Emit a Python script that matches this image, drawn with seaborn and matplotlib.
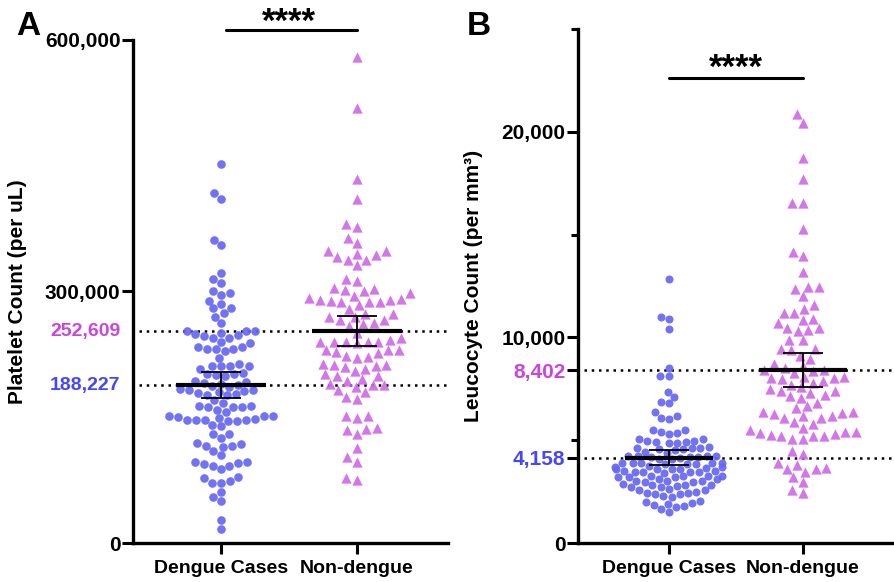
import matplotlib
matplotlib.use('Agg')
import numpy as np
import pandas as pd
import matplotlib.pyplot as plt
import matplotlib.transforms as mtransforms
import seaborn as sns

sns.set_style('ticks')
plt.rcParams['font.family'] = ['Liberation Sans', 'DejaVu Sans']
plt.rcParams['font.weight'] = 'bold'
for key in ['text.color', 'axes.labelcolor', 'xtick.color', 'ytick.color', 'axes.edgecolor']:
    plt.rcParams[key] = 'black'

GROUPS = ['Dengue Cases', 'Non-dengue']
COLORS = ['#6666f5', '#cf6ae9']
LABEL_COLORS = ['#4646ff', '#cc44e0']

# platelet count (per uL)
dengue_platelet = [452000, 417000, 410000, 362000, 355000, 322000, 315000, 310000, 300000,
                   298000, 296000, 289000, 285000, 280000, 280000, 274000, 270000, 262000,
                   253000, 253000, 251000, 253000, 247000, 248000, 245000, 244000, 249000,
                   240000, 238000, 231000, 231000, 234000, 234000, 229000, 231000, 221000,
                   211000, 208000, 211000, 213000, 211000, 211000, 203000, 201000, 199000,
                   202000, 200000, 193000, 192000, 190000, 187000, 189000, 191000, 186000,
                   182000, 181000, 179000, 177000, 176000, 183000, 180000, 184000, 178000,
                   171000, 167000, 162000, 162000, 162000, 163000, 159000, 156000, 163000,
                   152000, 146000, 150000, 147000, 148000, 152000, 147000, 145000, 147000,
                   152000, 147000, 149000, 139000, 141000, 130000, 130000, 125000, 116000,
                   116000, 115000, 119000, 118000, 110000, 105000, 95000, 97000, 97000,
                   94000, 92000, 88000, 92000, 74000, 79000, 72000, 72000, 77000, 61000,
                   55000, 50000, 28000, 17000]
nondengue_platelet = [580000, 519000, 434000, 410000, 380000, 377000, 364000, 358000,
                      345000, 343000, 348000, 348000, 338000, 338000, 341000, 332000,
                      315000, 312000, 304000, 300000, 302000, 298000, 303000,
                      288000, 292000, 295000, 291000, 288000, 288000, 290000, 289000, 290000,
                      284000, 279000, 273000, 266000, 273000, 266000, 269000, 269000, 261000,
                      262000, 259000, 251000, 244000, 240000, 240000, 240000, 238000, 242000,
                      240000, 240000, 230000, 230000, 222000, 223000, 221000, 227000, 230000,
                      228000, 212000, 212000, 213000, 211000, 208000, 210000, 199000, 205000,
                      196000, 201000, 193000, 199000, 190000, 188000, 189000, 182000, 186000,
                      180000, 172000, 174000, 149000, 151000, 151000, 130000, 137000, 135000,
                      136000, 113000, 97000, 102000, 75000, 78000]

# leucocyte count (per mm3)
dengue_leuco = [12820, 10900, 10970, 10430, 8530, 8130, 8130, 7340, 7090, 6840, 6790, 6390,
                6050, 6090, 6190,
                5350, 5400, 5520, 5480, 5300, 5070, 4930, 4950, 5080, 4980, 4850, 4880, 4920,
                4660, 4450, 4560, 4500, 4600, 4560, 4620, 4600, 4400, 4250, 4160, 4110, 4230,
                4080, 4150, 4200, 4230, 4200, 4230, 3900, 3830, 3900, 3750, 3830, 3870, 3830,
                3900, 3900, 3700, 3650, 3700, 3430, 3520, 3400, 3470, 3600, 3620, 3520, 3430,
                3580, 3620, 3430, 3240, 2950, 3030, 3030, 3190, 3110, 3270, 3190, 3270, 3190,
                2840, 2950, 2750, 2830, 2700, 2860, 2590, 2800, 2360, 2300, 2360, 2250, 2410,
                1940, 1900, 1820, 2010, 1850, 2060, 1650, 1740, 1500, 2600, 2700, 3250, 3100,
                2500, 2650, 2450, 3000]
nondengue_leuco = [20860, 20450, 18740, 17700, 16550, 16550, 15260, 13950, 14130, 13180,
                   12460, 12460, 12370, 12030, 11577, 11172, 11400, 11205, 10913, 10848,
                   10686, 10362, 10476, 10476, 10314, 9876, 9876, 9390, 9423, 9423, 9099,
                   8694, 8969, 8613, 8370, 8402, 8094, 8289, 8532, 8402, 7965, 7884, 8046,
                   8046, 8094, 7673, 7479, 7608, 7803, 7398, 7317, 7155, 7398, 7187, 7074,
                   6831, 6669, 6588, 6264, 6377, 6377, 6102, 6102, 6183, 6183, 6345, 5778,
                   5891, 5502, 5373, 5405, 5211, 5292, 5405, 5211, 5211, 5081, 5616, 5243,
                   5081, 4482, 4320, 3785, 3915, 3672, 3591, 3591, 3461, 3186, 2975, 2424,
                   2586]

# group means and 95% CI half-widths shown on the chart
mean_platelet = [188227, 252609]
ci_platelet = [15800, 18000]
mean_leuco = [4158, 8402]
ci_leuco = [380, 820]


def draw_panel(ax, values, means, cis, sizes):
    for i, (grp, vals) in enumerate(zip(GROUPS, values)):
        df = pd.DataFrame({'group': grp, 'value': vals})
        sns.swarmplot(data=df, x='group', y='value', order=GROUPS, ax=ax,
                      color=COLORS[i], marker='o' if i == 0 else '^', size=sizes[i],
                      alpha=0.92, linewidth=0, zorder=2)
    for i, (m, ci) in enumerate(zip(means, cis)):
        ax.hlines(m, i - 0.33, i + 0.33, color='black', lw=3, zorder=6)
        ax.vlines(i, m - ci, m + ci, color='black', lw=1.3, zorder=6)
        ax.hlines([m - ci, m + ci], i - 0.15, i + 0.15, color='black', lw=1.3, zorder=6)
        ax.axhline(m, xmin=0.02, xmax=1, color='black', lw=1.8,
                   linestyle=(0, (1, 1.9)), zorder=1)
    ax.set_xlabel('')
    sns.despine(ax=ax)
    for sp in ['left', 'bottom']:
        ax.spines[sp].set_linewidth(2.4)
    ax.tick_params(axis='y', width=2.2, length=8, pad=1, labelsize=15)
    ax.tick_params(axis='x', width=2.2, length=8, pad=4, labelsize=14)
    for lab in ax.get_xticklabels() + ax.get_yticklabels():
        lab.set_fontweight('bold')


fig = plt.figure(figsize=(8.95, 5.82), dpi=100)

# panel A
axA = fig.add_axes([0.1486, 0.067, 0.352, 0.8643])
draw_panel(axA, [dengue_platelet, nondengue_platelet], mean_platelet, ci_platelet, [6.2, 7.4])
axA.set_xlim(-0.647, 1.67)
axA.set_ylim(0, 600000)
axA.set_yticks([0, 300000, 600000])
axA.set_yticklabels(['0', '300,000', '600,000'], fontweight='bold')
axA.set_ylabel('Platelet Count (per uL)', fontsize=15, fontweight='bold')
axA.yaxis.set_label_coords(-0.335, 0.5)
trans = mtransforms.blended_transform_factory(axA.transAxes, axA.transData)
for m, c in zip(mean_platelet, LABEL_COLORS):
    axA.text(-0.04, m, f'{m:,}', transform=trans, ha='right', va='center',
             fontsize=14, fontweight='bold', color=c)
axA.plot([0.04, 1.0], [612000, 612000], color='black', lw=2.2, clip_on=False)
axA.text(0.5, 621000, '****', ha='center', va='center', fontsize=25, fontweight='bold')

# panel B
axB = fig.add_axes([0.6458, 0.067, 0.3542, 0.8832])
draw_panel(axB, [dengue_leuco, nondengue_leuco], mean_leuco, ci_leuco, [5.8, 7.4])
axB.set_xlim(-0.68, 1.69)
axB.set_ylim(0, 25000)
axB.set_yticks([0, 4158, 8402, 10000, 20000])
axB.set_yticklabels(['0', '4,158', '8,402', '10,000', '20,000'], fontweight='bold')
axB.set_yticks([5000, 15000, 25000], minor=True)
axB.tick_params(axis='y', which='minor', width=2.2, length=5)
labs = axB.get_yticklabels()
labs[1].set_color(LABEL_COLORS[0])
labs[2].set_color(LABEL_COLORS[1])
axB.set_ylabel('Leucocyte Count (per mm³)', fontsize=15, fontweight='bold')
axB.yaxis.set_label_coords(-0.30, 0.5)
axB.plot([0.0, 1.0], [22620, 22620], color='black', lw=2.2, clip_on=False)
axB.text(0.5, 23080, '****', ha='center', va='center', fontsize=25, fontweight='bold')

fig.text(0.031, 0.955, 'A', fontsize=24, fontweight='bold', ha='center', va='center')
fig.text(0.535, 0.955, 'B', fontsize=24, fontweight='bold', ha='center', va='center')

fig.savefig('out.png', dpi=100)
